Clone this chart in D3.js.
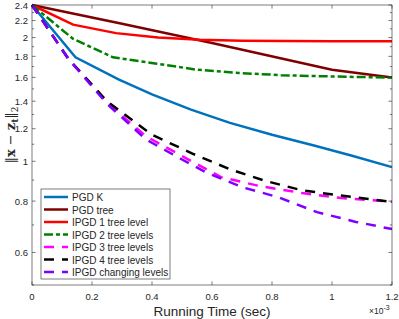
<!DOCTYPE html>
<html>
<head>
<meta charset="utf-8">
<script src="https://cdn.jsdelivr.net/npm/d3@7"></script>
<style>
  body { margin: 0; background: #fff; }
  svg { font-family: "Liberation Sans", Arial, sans-serif; }
</style>
</head>
<body>
<svg id="chart" width="399" height="319"></svg>
<script>
// series data (time in units of 1e-3 sec)
let seriesNames = ['PGD K', 'PGD tree', 'IPGD 1 tree level', 'IPGD 2 tree levels',
                   'IPGD 3 tree levels', 'IPGD 4 tree levels', 'IPGD changing levels'];
let pgdK_t = [0, 0.145, 0.29, 0.4, 0.53, 0.66, 0.8, 0.94, 1.07, 1.2];
let pgdK_v = [2.4, 1.79, 1.58, 1.455, 1.335, 1.24, 1.16, 1.092, 1.03, 0.968];
let pgdTree_t = [0, 0.3, 0.6, 1.0, 1.2];
let pgdTree_v = [2.4, 2.16, 1.94, 1.67, 1.598];
let ipgd1_t = [0, 0.137, 0.28, 0.42, 0.56, 0.7, 0.84, 1.0, 1.2];
let ipgd1_v = [2.4, 2.15, 2.05, 2.0, 1.975, 1.965, 1.961, 1.959, 1.958];
let ipgd2_t = [0, 0.137, 0.27, 0.41, 0.55, 0.69, 0.83, 0.97, 1.1, 1.2];
let ipgd2_v = [2.4, 1.985, 1.79, 1.73, 1.67, 1.64, 1.62, 1.61, 1.603, 1.598];
let ipgd3_t = [0, 0.12, 0.25, 0.38, 0.5, 0.63, 0.76, 0.9, 1.03, 1.2];
let ipgd3_v = [2.4, 1.78, 1.39, 1.15, 1.03, 0.915, 0.87, 0.837, 0.814, 0.797];
let ipgd4_t = [0, 0.12, 0.25, 0.4, 0.54, 0.66, 0.78, 0.9, 1.02, 1.2];
let ipgd4_v = [2.4, 1.78, 1.40, 1.16, 1.04, 0.956, 0.895, 0.85, 0.827, 0.796];
let ipgdC_t = [0, 0.12, 0.25, 0.38, 0.5, 0.58, 0.7, 0.82, 0.95, 1.08, 1.2];
let ipgdC_v = [2.4, 1.78, 1.38, 1.13, 1.01, 0.94, 0.865, 0.818, 0.752, 0.712, 0.684];

let xTicks = [0, 0.2, 0.4, 0.6, 0.8, 1, 1.2];
let yTicks = [0.6, 0.8, 1, 1.2, 1.4, 1.6, 1.8, 2, 2.2, 2.4];
let yMinor = [0.5, 0.7, 0.9, 1.1, 1.3, 1.5, 1.7, 1.9, 2.1, 2.3];

let colors = ['#0072BD', '#7F0000', '#FF0000', '#008000', '#FF00FF', '#000000', '#8000FF'];
let dashes = [null, null, null, '9,3,4,3', '10,8', '10,8', '10,8'];

let series = [
  [pgdK_t, pgdK_v], [pgdTree_t, pgdTree_v], [ipgd1_t, ipgd1_v], [ipgd2_t, ipgd2_v],
  [ipgd3_t, ipgd3_v], [ipgd4_t, ipgd4_v], [ipgdC_t, ipgdC_v]
].map((s, i) => ({
  name: seriesNames[i], color: colors[i], dash: dashes[i],
  pts: s[0].map((t, j) => [t, s[1][j]])
}));

let pad = {left: 32, right: 392, top: 5, bottom: 285};
let axisColor = '#262626';

let svg = d3.select('#chart');
let x = d3.scaleLinear().domain([0, 1.2]).range([pad.left, pad.right]);
let y = d3.scaleLog().domain([0.5, 2.4]).range([pad.bottom, pad.top]);

// lines
let line = d3.line().x(d => x(d[0])).y(d => y(d[1]));
svg.append('g')
  .selectAll('path')
  .data(series)
  .join('path')
  .attr('d', d => line(d.pts))
  .attr('fill', 'none')
  .attr('stroke', d => d.color)
  .attr('stroke-width', 2.5)
  .attr('stroke-dasharray', d => d.dash);

// axes box
svg.append('rect')
  .attr('x', pad.left).attr('y', pad.top)
  .attr('width', pad.right - pad.left).attr('height', pad.bottom - pad.top)
  .attr('fill', 'none').attr('stroke', axisColor).attr('stroke-width', 0.6);

let tl = 3.6;
let tk = svg.append('g').attr('stroke', axisColor).attr('stroke-width', 0.6);
xTicks.forEach(t => {
  tk.append('line').attr('x1', x(t)).attr('x2', x(t)).attr('y1', pad.bottom).attr('y2', pad.bottom - tl);
  tk.append('line').attr('x1', x(t)).attr('x2', x(t)).attr('y1', pad.top).attr('y2', pad.top + tl);
});
yTicks.concat(yMinor).forEach(t => {
  let len = yTicks.includes(t) ? tl : tl * 0.6;
  tk.append('line').attr('x1', pad.left).attr('x2', pad.left + len).attr('y1', y(t)).attr('y2', y(t));
  tk.append('line').attr('x1', pad.right).attr('x2', pad.right - len).attr('y1', y(t)).attr('y2', y(t));
});

// tick labels
svg.append('g')
  .selectAll('text')
  .data(xTicks)
  .join('text')
  .attr('x', d => x(d))
  .attr('y', pad.bottom + 15)
  .attr('text-anchor', 'middle')
  .attr('font-size', 9.5)
  .attr('fill', axisColor)
  .text(d => d);

svg.append('g')
  .selectAll('text')
  .data(yTicks)
  .join('text')
  .attr('x', pad.left - 4)
  .attr('y', d => y(d) + 3.5)
  .attr('text-anchor', 'end')
  .attr('font-size', 9.5)
  .attr('fill', axisColor)
  .text(d => d);

// exponent
let ex = svg.append('text')
  .attr('x', 369).attr('y', 314)
  .attr('font-size', 8.5)
  .attr('fill', axisColor);
ex.append('tspan').text('\u00d710');
ex.append('tspan').attr('dy', -4).attr('font-size', 7).text('-3');

// axis labels
svg.append('text')
  .attr('x', (pad.left + pad.right) / 2)
  .attr('y', 316)
  .attr('text-anchor', 'middle')
  .attr('font-size', 13.5)
  .attr('fill', axisColor)
  .text('Running Time (sec)');

let yl = svg.append('text')
  .attr('transform', `translate(15, ${(pad.top + pad.bottom) / 2 - 10}) rotate(-90)`)
  .attr('text-anchor', 'middle')
  .attr('font-size', 13)
  .attr('fill', axisColor)
  .attr('font-family', '"DejaVu Serif", serif');
yl.append('tspan').text('\u2016');
yl.append('tspan').attr('font-weight', 'bold').text('x');
yl.append('tspan').text(' \u2212 ');
yl.append('tspan').attr('font-weight', 'bold').text('z');
yl.append('tspan').attr('font-weight', 'bold').attr('font-size', 9).attr('dy', 3).text('t');
yl.append('tspan').attr('dy', -3).text('\u2016');
yl.append('tspan').attr('font-size', 9).attr('dy', 3).text('2');

// legend
let lg = svg.append('g');
lg.append('rect')
  .attr('x', 41).attr('y', 189)
  .attr('width', 129).attr('height', 90)
  .attr('fill', '#fff').attr('stroke', axisColor).attr('stroke-width', 0.6);
let rows = lg.selectAll('g.row')
  .data(series)
  .join('g')
  .attr('class', 'row')
  .attr('transform', (d, i) => `translate(0, ${197 + i * 12.5})`);
rows.append('line')
  .attr('x1', 44).attr('x2', 68)
  .attr('stroke', d => d.color)
  .attr('stroke-width', 2.5)
  .attr('stroke-dasharray', d => d.dash);
rows.append('text')
  .attr('x', 72).attr('y', 4)
  .attr('font-size', 10)
  .attr('fill', axisColor)
  .text(d => d.name);
</script>
</body>
</html>
